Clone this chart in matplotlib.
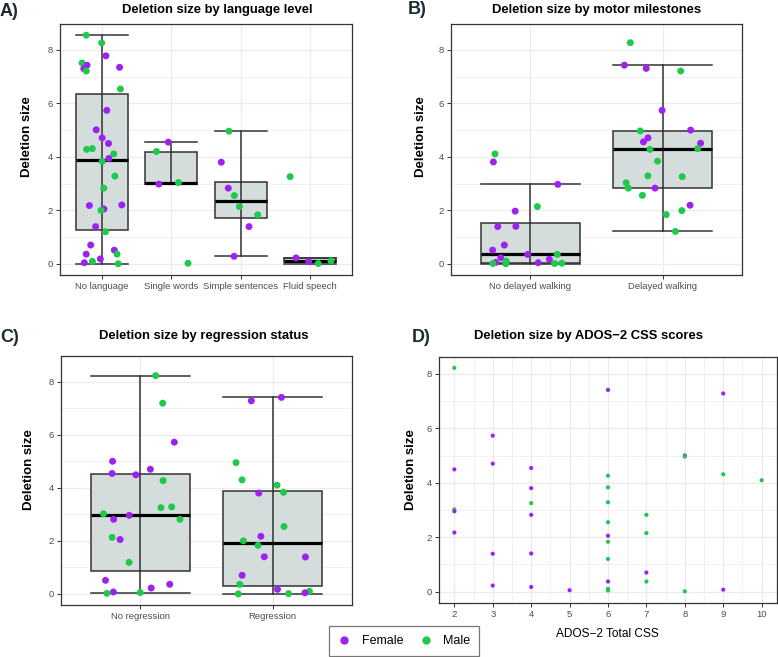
import numpy as np
import matplotlib
matplotlib.use("Agg")
import matplotlib.pyplot as plt
from matplotlib import cbook
from matplotlib.lines import Line2D

plt.rcParams['font.family'] = ['Liberation Sans', 'DejaVu Sans']

# ---- data ----
# A) language level
lang_groups = ["No language", "Single words", "Simple sentences", "Fluid speech"]
lang_vals = [
    [8.55, 8.26, 7.78, 7.51, 7.43, 7.35, 7.30, 7.21, 6.54, 5.74, 5.01, 4.71, 4.50, 4.31,
     4.28, 4.11, 3.94, 3.83, 3.28, 2.83, 2.20, 2.18, 2.05, 2.00, 1.39, 1.20, 0.70, 0.51,
     0.36, 0.36, 0.18, 0.09, 0.04, 0.00],
    [4.55, 4.20, 3.04, 2.98, 0.02],
    [4.96, 3.80, 2.83, 2.55, 2.14, 1.83, 1.39, 0.28],
    [3.26, 0.22, 0.11, 0.08, 0.01],
]
lang_sex = ["MMFMFFFMMFFFFMMMFMMMFFFMFMFFMFFMFM", "FMMFM", "MFFMMMFF", "MFMFM"]

# B) motor milestones
walk_groups = ["No delayed walking", "Delayed walking"]
walk_vals = [
    [4.11, 3.81, 2.97, 2.14, 1.97, 1.40, 1.39, 0.70, 0.51, 0.35, 0.35, 0.23, 0.17, 0.10,
     0.05, 0.04, 0.02, 0.01, 0.01, 0.00],
    [8.27, 7.43, 7.31, 7.21, 5.74, 5.00, 4.97, 4.71, 4.56, 4.51, 4.31, 4.28, 3.84, 3.29,
     3.26, 3.03, 2.83, 2.83, 2.56, 2.19, 1.99, 1.84, 1.21],
]
walk_sex = ["MFFMFFFFFMFFFMFFMMMM", "MFFMFFMFFFMMMMMMMFMFMMM"]

# C) regression status
regr_groups = ["No regression", "Regression"]
regr_vals = [
    [8.23, 7.19, 5.72, 5.00, 4.70, 4.54, 4.49, 4.27, 3.28, 3.25, 3.02, 2.96, 2.81, 2.81,
     2.13, 2.05, 1.19, 0.51, 0.36, 0.22, 0.07, 0.05, 0.02],
    [7.41, 7.28, 4.95, 4.30, 4.10, 3.83, 3.80, 2.54, 2.17, 2.00, 1.83, 1.40, 1.39, 0.70,
     0.36, 0.17, 0.10, 0.04, 0.01, 0.00],
]
regr_sex = ["MMFFFFFMMMMFFMMFMFFFFMM", "FFMMMMFMFMMFFFMFMFMM"]

# D) ADOS-2 CSS
ados_css = [2, 2, 2, 2, 2, 3, 3, 3, 3, 4, 4, 4, 4, 4, 4, 5,
            6, 6, 6, 6, 6, 6, 6, 6, 6, 6, 6, 7, 7, 7, 7, 8, 8, 8, 9, 9, 9, 10]
ados_del = [8.22, 4.49, 3.02, 2.95, 2.17, 5.73, 4.70, 1.39, 0.22, 4.54, 3.80, 3.25, 2.82,
            1.40, 0.17, 0.05, 7.41, 4.26, 3.83, 3.28, 2.55, 2.05, 1.83, 1.20, 0.37, 0.10,
            0.04, 2.82, 2.15, 0.70, 0.37, 5.00, 4.96, 0.01, 7.28, 4.31, 0.07, 4.09]
ados_sex = "MFMFFFFFFFFMFFFFFMMMMFMMFMMMMFMFMMFMFM"

colors = {"F": "#9d22f0", "M": "#1fc94c"}
box_fill = "#d4dcdc"
line_col = "#333333"
grid_col = "#ebebeb"
tick_col = "#4d4d4d"

W, H = 778, 657
fig = plt.figure(figsize=(W / 100, H / 100), dpi=100)


def make_ax(left, right, top, bottom):
    ax = fig.add_axes([left / W, 1 - bottom / H, (right - left) / W, (bottom - top) / H])
    for s in ax.spines.values():
        s.set_color(line_col)
        s.set_linewidth(0.9)
    ax.set_axisbelow(True)
    ax.tick_params(axis='both', which='major', length=3, width=0.7, color=line_col,
                   labelcolor=tick_col, labelsize=6.8, pad=2)
    ax.tick_params(axis='both', which='minor', length=0)
    ax.set_yticks([0, 2, 4, 6, 8])
    ax.set_yticks([1, 3, 5, 7], minor=True)
    ax.grid(True, which='major', color=grid_col, lw=0.9)
    ax.grid(True, which='minor', color=grid_col, lw=0.5)
    return ax


def box_panel(ax, groups, vals, sexes, rng):
    pos = np.arange(1, len(groups) + 1)
    stats = [cbook.boxplot_stats(np.array(v), whis=1.5)[0] for v in vals]
    ax.bxp(stats, positions=pos, widths=0.75, capwidths=0.75, showfliers=False,
           patch_artist=True, manage_ticks=False,
           boxprops=dict(facecolor=box_fill, edgecolor=line_col, lw=1.1),
           whiskerprops=dict(color=line_col, lw=1.1),
           capprops=dict(color=line_col, lw=1.1),
           medianprops=dict(color="black", lw=2.3, zorder=3.5))
    for p, st in zip(pos, stats):
        ax.vlines(p, st['q1'], st['q3'], color=line_col, lw=1.1, zorder=3)
    for p, v, sx in zip(pos, vals, sexes):
        jit = rng.uniform(-0.3, 0.3, len(v))
        cols = [colors[c] for c in sx]
        ax.scatter(p + jit, v, s=25, c=cols, linewidths=0, zorder=5)
    ax.set_xticks(pos)
    ax.set_xticklabels(groups)
    ax.set_xlim(0.4, len(groups) + 0.6)
    ax.grid(False, axis='x', which='minor')


rng = np.random.default_rng(11)

axA = make_ax(60, 352, 24, 275)
box_panel(axA, lang_groups, lang_vals, lang_sex, rng)
axB = make_ax(451, 742, 24, 275)
box_panel(axB, walk_groups, walk_vals, walk_sex, rng)
axC = make_ax(61, 352, 356, 605)
box_panel(axC, regr_groups, regr_vals, regr_sex, rng)

axD = make_ax(439, 777, 357, 603)
axD.scatter(ados_css, ados_del, s=9, c=[colors[c] for c in ados_sex], linewidths=0, zorder=5)
axD.set_xticks(range(2, 11))
axD.set_xticks(np.arange(2.5, 10, 1), minor=True)
axD.set_xlim(1.6, 10.4)
axD.grid(True, which='minor', color=grid_col, lw=0.5)

for ax in (axA, axB, axC, axD):
    ax.set_ylim(-0.42, 8.97 if ax is not axD else 8.62)

# titles, panel tags, axis labels
def ftext(x, y, s, **kw):
    fig.text(x / W, 1 - y / H, s, **kw)

ttl = dict(fontsize=9.4, fontweight='bold', ha='center', va='center')
ftext(217, 10, "Deletion size by language level", **ttl)
ftext(597, 10, "Deletion size by motor milestones", **ttl)
ftext(204, 336, "Deletion size by regression status", **ttl)
ftext(588, 336, "Deletion size by ADOS\u22122 CSS scores", **ttl)

tag = dict(fontsize=13, fontweight='bold', ha='left', va='center', color='#1c2b33')
ftext(0, 12, "A)", **tag)
ftext(408, 10, "B)", **tag)
ftext(0, 338, "C)", **tag)
ftext(412, 337, "D)", **tag)

yl = dict(fontsize=9.5, fontweight='bold', ha='center', va='center', rotation=90)
ftext(27, 137, "Deletion size", **yl)
ftext(421, 137, "Deletion size", **yl)
ftext(29, 470, "Deletion size", **yl)
ftext(411, 470, "Deletion size", **yl)

ftext(607, 634, "ADOS\u22122 Total CSS", fontsize=8.6, ha='center', va='center')

handles = [Line2D([], [], marker='o', ls='', color=colors['F'], markersize=5),
           Line2D([], [], marker='o', ls='', color=colors['M'], markersize=5)]
leg = fig.legend(handles, ["Female", "Male"], loc='center', ncol=2,
                 bbox_to_anchor=(404 / W, 1 - 641 / H), frameon=True, fancybox=False,
                 edgecolor='#555555', fontsize=9, handletextpad=0.9, columnspacing=1.3,
                 borderpad=0.7, handlelength=1.0)
leg.get_frame().set_linewidth(0.9)

fig.savefig("out.png", dpi=100)
